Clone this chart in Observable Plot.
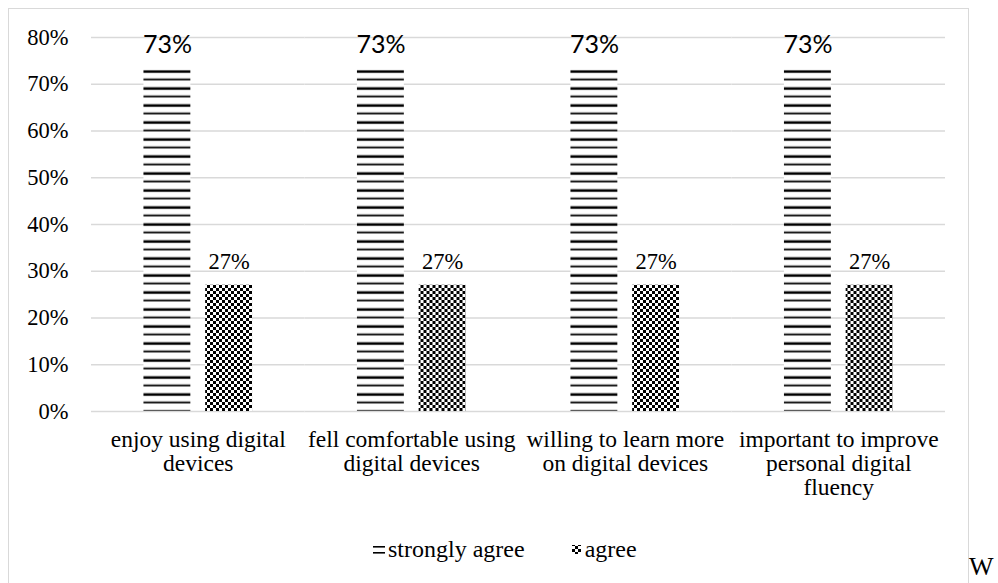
<!DOCTYPE html>
<html>
<head>
<meta charset="utf-8">
<script src="https://cdn.jsdelivr.net/npm/d3@7"></script>
<script src="https://cdn.jsdelivr.net/npm/@observablehq/plot@0.6"></script>
<style>
  html, body { margin: 0; padding: 0; background: #fff; }
  #page { position: relative; width: 998px; height: 583px; overflow: hidden; }
  #frame { position: absolute; left: 8px; top: 8px; width: 961px; height: 620px; border: 1px solid #d9d9d9; box-sizing: border-box; }
  #chart { position: absolute; left: 0; top: 0; }
  #chart text { font-family: "Liberation Serif", "Times New Roman", serif; }
  #chart .value-sans text { font-family: Lato, "Open Sans", sans-serif; }
  #legend { position: absolute; left: 373px; top: 536px; display: flex; align-items: center;
            font-family: "Liberation Serif", "Times New Roman", serif; font-size: 24px; color: #000; }
  #legend .item { display: flex; align-items: center; }
  #legend svg { display: block; }
  #stray { position: absolute; left: 969px; top: 557px; font-family: "Liberation Serif", "Times New Roman", serif;
           font-size: 26px; line-height: 20px; color: #000; }
</style>
</head>
<body>
<div id="page">
  <div id="frame"></div>
  <div id="chart"></div>
  <div id="legend"></div>
  <div id="stray">W</div>
</div>
<script>
// Survey responses per statement (percent of respondents)
const categories = [
  "enjoy using digital devices",
  "fell comfortable using digital devices",
  "willing to learn more on digital devices",
  "important to improve personal digital fluency"
];
const categoryLines = [
  "enjoy using digital\ndevices",
  "fell comfortable using\ndigital devices",
  "willing to learn more\non digital devices",
  "important to improve\npersonal digital\nfluency"
];
const seriesNames = ["strongly agree", "agree"];
const stronglyAgree = [73, 73, 73, 73];
const agree = [27, 27, 27, 27];
const yTicks = [0, 10, 20, 30, 40, 50, 60, 70, 80];

const strongRows = categories.map((c, i) => ({category: c, series: seriesNames[0], value: stronglyAgree[i]}));
const agreeRows = categories.map((c, i) => ({category: c, series: seriesNames[1], value: agree[i]}));

const serif = "'Liberation Serif', 'Times New Roman', serif";

const chart = Plot.plot({
  width: 998,
  height: 528,
  marginTop: 37,
  marginBottom: 117,
  marginLeft: 91,
  marginRight: 53,
  style: {fontFamily: serif, fontSize: "22.5px", color: "#000", background: "transparent", overflow: "visible"},
  fx: {domain: categories, padding: 0, round: false},
  x: {domain: seriesNames, paddingInner: 0.24, paddingOuter: 0.85, round: false, axis: null},
  y: {domain: [0, 80], axis: null},
  marks: [
    Plot.gridY(yTicks, {stroke: "#d9d9d9", strokeOpacity: 1, strokeWidth: 1.3}),
    Plot.axisY(yTicks, {tickSize: 0, tickPadding: 23, tickFormat: d => d + "%", fontSize: 22.5, label: null}),
    Plot.axisFx({anchor: "bottom", tickSize: 0, tickPadding: 18, fontSize: 23.5, lineHeight: 1.035,
                 label: null, tickFormat: c => categoryLines[categories.indexOf(c)]}),
    Plot.barY(strongRows, {fx: "category", x: "series", y: "value", fill: "url(#hlines)"}),
    Plot.barY(agreeRows, {fx: "category", x: "series", y: "value", fill: "url(#checker)"}),
    Plot.text(strongRows, {fx: "category", x: "series", y: "value", text: d => d.value + "%", dy: -25,
                           className: "value-sans", fontSize: 25, fill: "#000"}),
    Plot.text(agreeRows, {fx: "category", x: "series", y: "value", text: d => d.value + "%", dy: -23,
                          fontSize: 22.5, fill: "#000"})
  ]
});

// Fill patterns: alternating heavy/light horizontal rules, and a fine checkerboard
const stripeTop = chart.scale("y").apply(stronglyAgree[0]);
const ns = "http://www.w3.org/2000/svg";
const defs = document.createElementNS(ns, "defs");
defs.innerHTML = `
  <pattern id="hlines" patternUnits="userSpaceOnUse" x="0" y="${stripeTop}" width="8" height="17">
    <rect width="8" height="17" fill="#fff"/>
    <rect y="0.5" width="8" height="2.6" fill="#000"/>
    <rect y="8.8" width="8" height="1.8" fill="#000"/>
  </pattern>
  <pattern id="checker" patternUnits="userSpaceOnUse" x="0" y="0" width="6" height="6">
    <rect width="6" height="6" fill="#fff"/>
    <rect width="3" height="3" fill="#000"/>
    <rect x="3" y="3" width="3" height="3" fill="#000"/>
  </pattern>`;
chart.insertBefore(defs, chart.firstChild);
document.getElementById("chart").appendChild(chart);

// Legend
const legend = document.getElementById("legend");
legend.innerHTML = `
  <div class="item">
    <svg width="15" height="14"><rect x="0" y="3" width="12" height="1.6" fill="#000"/><rect x="0" y="9" width="12" height="1.6" fill="#000"/></svg>
    <span>${seriesNames[0]}</span>
  </div>
  <div class="item" style="margin-left:47px">
    <svg width="13" height="14"><rect x="0" y="2" width="9" height="9" fill="url(#checker)"/></svg>
    <span>${seriesNames[1]}</span>
  </div>`;
</script>
</body>
</html>
